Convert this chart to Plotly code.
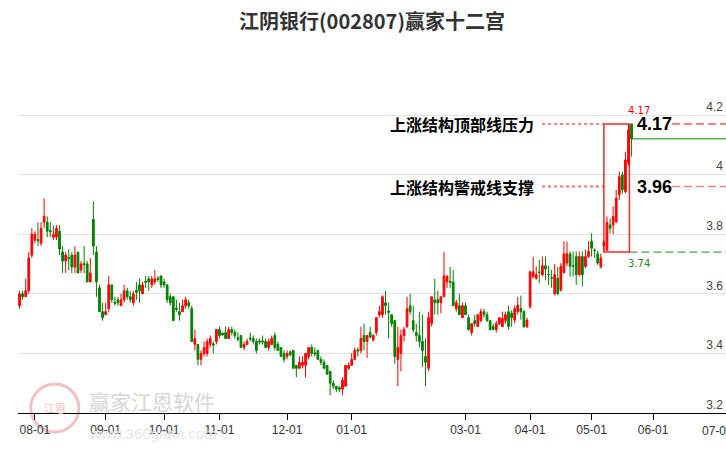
import plotly.graph_objects as go

# ---------------- data ----------------
# trading-day index (0 = first trading day of August)
first_day = -5
open_ = [3.56, 3.60, 3.59, 3.61, 3.73, 3.78, 3.782, 3.77, 3.84, 3.84, 3.812, 3.79, 3.79, 3.81, 3.74, 3.71,
         3.722, 3.73, 3.69, 3.74, 3.68, 3.702, 3.70, 3.64, 3.85, 3.74, 3.62, 3.54, 3.53, 3.55, 3.63, 3.572,
         3.58, 3.56, 3.58, 3.61, 3.59, 3.57, 3.612, 3.63, 3.60, 3.642, 3.65, 3.63, 3.64, 3.652, 3.66, 3.64,
         3.63, 3.59, 3.59, 3.552, 3.54,
         3.54, 3.56, 3.57, 3.55, 3.43, 3.43, 3.38, 3.40, 3.40, 3.43, 3.432, 3.44, 3.48, 3.468, 3.47, 3.45,
         3.48, 3.47, 3.452, 3.46, 3.42, 3.43, 3.452, 3.45, 3.44, 3.442, 3.442, 3.44, 3.42, 3.43, 3.46, 3.43,
         3.42, 3.40, 3.39, 3.405, 3.41, 3.36, 3.35, 3.36, 3.36, 3.39, 3.42, 3.402, 3.41, 3.38, 3.37, 3.36,
         3.34, 3.30, 3.29, 3.285,
         3.28, 3.29, 3.35, 3.36, 3.38, 3.412, 3.41, 3.46, 3.44, 3.47, 3.445, 3.47, 3.53, 3.53, 3.57, 3.542,
         3.53, 3.51, 3.38, 3.40, 3.46, 3.49, 3.56, 3.51, 3.47, 3.46, 3.44, 3.39, 3.35, 3.50, 3.58, 3.58,
         3.57, 3.59, 3.64, 3.642, 3.64, 3.55, 3.56, 3.52, 3.56, 3.52, 3.47, 3.51, 3.49, 3.51, 3.54, 3.53,
         3.51, 3.49, 3.48, 3.50,
         3.49, 3.51, 3.54, 3.535, 3.512, 3.54, 3.551, 3.54, 3.49,
         3.557, 3.657, 3.652, 3.673, 3.664, 3.694, 3.665, 3.654, 3.60, 3.652, 3.613, 3.671, 3.703, 3.734,
         3.694, 3.725, 3.664, 3.725, 3.692, 3.725, 3.776, 3.746, 3.734, 3.69, 3.761, 3.747, 3.831, 3.831,
         3.842, 3.932, 3.999, 3.943, 4.04, 4.17]
high = [3.61, 3.61, 3.65, 3.74, 3.82, 3.81, 3.84, 3.84, 3.92, 3.86, 3.84, 3.83, 3.83, 3.83, 3.76, 3.74,
        3.75, 3.74, 3.76, 3.74, 3.71, 3.76, 3.71, 3.72, 3.91, 3.76, 3.63, 3.57, 3.57, 3.66, 3.63, 3.59,
        3.59, 3.60, 3.63, 3.62, 3.61, 3.61, 3.64, 3.65, 3.64, 3.66, 3.66, 3.66, 3.68, 3.66, 3.66, 3.65,
        3.63, 3.60, 3.59, 3.58, 3.57,
        3.58, 3.59, 3.58, 3.56, 3.48, 3.43, 3.41, 3.44, 3.45, 3.46, 3.44, 3.48, 3.49, 3.47, 3.49, 3.49,
        3.49, 3.48, 3.47, 3.46, 3.44, 3.45, 3.47, 3.46, 3.45, 3.45, 3.46, 3.45, 3.45, 3.46, 3.47, 3.44,
        3.42, 3.41, 3.41, 3.41, 3.41, 3.36, 3.39, 3.39, 3.40, 3.42, 3.43, 3.42, 3.41, 3.39, 3.38, 3.36,
        3.34, 3.31, 3.29, 3.29,
        3.32, 3.36, 3.37, 3.40, 3.42, 3.42, 3.49, 3.50, 3.46, 3.49, 3.465, 3.52, 3.56, 3.595, 3.61, 3.57,
        3.53, 3.51, 3.49, 3.48, 3.49, 3.59, 3.60, 3.56, 3.50, 3.54, 3.53, 3.45, 3.54, 3.59, 3.65, 3.61,
        3.59, 3.74, 3.66, 3.69, 3.68, 3.58, 3.60, 3.57, 3.57, 3.53, 3.50, 3.53, 3.53, 3.55, 3.55, 3.54,
        3.51, 3.50, 3.51, 3.52,
        3.54, 3.54, 3.56, 3.545, 3.56, 3.59, 3.594, 3.545, 3.52,
        3.676, 3.724, 3.692, 3.714, 3.725, 3.725, 3.694, 3.68, 3.70, 3.69, 3.703, 3.776, 3.776, 3.742,
        3.742, 3.742, 3.742, 3.742, 3.748, 3.776, 3.803, 3.753, 3.744, 3.735, 3.78, 3.859, 3.853, 3.893,
        3.949, 4.01, 4.01, 4.077, 4.17, 4.17]
low = [3.55, 3.58, 3.59, 3.60, 3.72, 3.77, 3.76, 3.76, 3.82, 3.79, 3.79, 3.78, 3.78, 3.73, 3.67, 3.67,
       3.68, 3.67, 3.67, 3.67, 3.67, 3.67, 3.64, 3.64, 3.73, 3.59, 3.54, 3.51, 3.53, 3.54, 3.57, 3.56,
       3.56, 3.56, 3.57, 3.58, 3.57, 3.56, 3.58, 3.57, 3.60, 3.62, 3.61, 3.62, 3.63, 3.64, 3.62, 3.62,
       3.57, 3.56, 3.51, 3.54, 3.51,
       3.54, 3.55, 3.55, 3.44, 3.41, 3.36, 3.36, 3.39, 3.39, 3.42, 3.40, 3.43, 3.45, 3.46, 3.45, 3.45,
       3.46, 3.45, 3.44, 3.42, 3.41, 3.43, 3.44, 3.43, 3.40, 3.43, 3.43, 3.42, 3.41, 3.43, 3.41, 3.41,
       3.39, 3.37, 3.38, 3.39, 3.35, 3.32, 3.35, 3.35, 3.32, 3.38, 3.39, 3.39, 3.38, 3.36, 3.35, 3.33,
       3.26, 3.28, 3.27, 3.27,
       3.26, 3.29, 3.345, 3.36, 3.38, 3.39, 3.40, 3.41, 3.385, 3.45, 3.44, 3.46, 3.52, 3.52, 3.53, 3.45,
       3.49, 3.365, 3.29, 3.34, 3.44, 3.485, 3.53, 3.47, 3.44, 3.42, 3.355, 3.29, 3.34, 3.49, 3.53, 3.53,
       3.535, 3.59, 3.62, 3.62, 3.56, 3.54, 3.53, 3.52, 3.53, 3.477, 3.46, 3.49, 3.49, 3.505, 3.52, 3.505,
       3.477, 3.477, 3.47, 3.495,
       3.49, 3.50, 3.48, 3.49, 3.50, 3.53, 3.513, 3.485, 3.485,
       3.55, 3.651, 3.647, 3.636, 3.658, 3.647, 3.63, 3.62, 3.595, 3.597, 3.607, 3.669, 3.692, 3.658,
       3.658, 3.63, 3.658, 3.625, 3.686, 3.72, 3.725, 3.72, 3.697, 3.685, 3.742, 3.742, 3.803, 3.80,
       3.837, 3.915, 3.937, 3.937, 4.03, 4.06]
close = [3.60, 3.59, 3.61, 3.72, 3.80, 3.80, 3.778, 3.82, 3.86, 3.81, 3.808, 3.80, 3.82, 3.75, 3.71, 3.73,
         3.718, 3.69, 3.73, 3.67, 3.70, 3.698, 3.64, 3.67, 3.76, 3.64, 3.54, 3.52, 3.54, 3.63, 3.58, 3.568,
         3.57, 3.58, 3.61, 3.59, 3.58, 3.60, 3.605, 3.61, 3.63, 3.638, 3.64, 3.65, 3.65, 3.648, 3.63, 3.63,
         3.58, 3.57, 3.51, 3.548, 3.53,
         3.56, 3.58, 3.56, 3.44, 3.45, 3.38, 3.40, 3.42, 3.44, 3.45, 3.428, 3.48, 3.46, 3.462, 3.45, 3.48,
         3.47, 3.46, 3.448, 3.42, 3.43, 3.44, 3.448, 3.44, 3.41, 3.438, 3.438, 3.42, 3.44, 3.45, 3.42, 3.41,
         3.39, 3.38, 3.40, 3.395, 3.35, 3.35, 3.37, 3.37, 3.40, 3.42, 3.40, 3.398, 3.38, 3.37, 3.35, 3.33,
         3.30, 3.29, 3.28, 3.28,
         3.31, 3.36, 3.36, 3.38, 3.41, 3.408, 3.45, 3.44, 3.46, 3.455, 3.46, 3.52, 3.54, 3.59, 3.56, 3.538,
         3.50, 3.39, 3.42, 3.46, 3.48, 3.55, 3.54, 3.48, 3.46, 3.44, 3.41, 3.37, 3.52, 3.59, 3.57, 3.57,
         3.59, 3.66, 3.66, 3.638, 3.56, 3.57, 3.53, 3.56, 3.53, 3.48, 3.50, 3.50, 3.53, 3.54, 3.53, 3.51,
         3.48, 3.48, 3.50, 3.52,
         3.517, 3.53, 3.49, 3.52, 3.55, 3.562, 3.54, 3.49, 3.512,
         3.674, 3.674, 3.664, 3.672, 3.694, 3.683, 3.664, 3.652, 3.664, 3.60, 3.692, 3.734, 3.734, 3.692,
         3.693, 3.664, 3.725, 3.664, 3.725, 3.742, 3.753, 3.745, 3.703, 3.72, 3.773, 3.839, 3.82, 3.859,
         3.921, 3.993, 3.949, 4.049, 4.15, 4.12]
days = list(range(first_day, first_day + len(close)))

tick_days = [0, 23, 42, 60, 82, 103, 140, 161, 181, 201, 222]
tick_labels = ["08-01", "09-01", "10-01", "11-01", "12-01", "01-01",
               "03-01", "04-01", "05-01", "06-01", "07-01"]
y_ticks = [3.2, 3.4, 3.6, 3.8, 4.0, 4.2]
y_tick_labels = ["3.2", "3.4", "3.6", "3.8", "4", "4.2"]

title = "江阴银行(002807)赢家十二宫"
top_label = "上涨结构顶部线压力"
warn_label = "上涨结构警戒线支撑"
top_value = 4.17
warn_value = 3.96
base_value = 3.74
box_start_day = 185
box_end_day = 193.3

# ---------------- figure ----------------
X_MIN, X_MAX = -5.5, 224.7
Y_MIN, Y_MAX = 3.2, 4.3846

fig = go.Figure()
fig.add_trace(go.Candlestick(
    x=days, open=open_, high=high, low=low, close=close,
    increasing=dict(line=dict(color="#ff0000", width=1), fillcolor="#ff0000"),
    decreasing=dict(line=dict(color="#008000", width=1), fillcolor="#008000"),
    whiskerwidth=0, showlegend=False, hoverinfo="skip",
))

shapes = []
red = "#ff0000"
pink = "#ff7070"
green = "#0a8a0a"
# dotted leader lines from labels to box
shapes.append(dict(type="line", xref="x", yref="y", x0=164.9, x1=box_start_day,
                   y0=top_value, y1=top_value, line=dict(color=red, width=1, dash="dot")))
shapes.append(dict(type="line", xref="x", yref="y", x0=164.9, x1=box_start_day,
                   y0=warn_value, y1=warn_value, line=dict(color=pink, width=2, dash="dot")))
# box
shapes.append(dict(type="rect", xref="x", yref="y", x0=box_start_day, x1=box_end_day,
                   y0=base_value, y1=top_value, line=dict(color="rgba(255,0,0,0.85)", width=1.5)))
# dashed lines to the right
shapes.append(dict(type="line", xref="x", yref="y", x0=207.1, x1=X_MAX,
                   y0=top_value, y1=top_value, line=dict(color=red, width=1, dash="8px,4px")))
shapes.append(dict(type="line", xref="x", yref="y", x0=207.1, x1=X_MAX,
                   y0=warn_value, y1=warn_value, line=dict(color="#ff8080", width=1.5, dash="8px,4px")))
shapes.append(dict(type="line", xref="x", yref="y", x0=box_end_day, x1=X_MAX,
                   y0=base_value, y1=base_value, line=dict(color="#1a8a1a", width=1, dash="8px,4px")))
# last price line
shapes.append(dict(type="line", xref="x", yref="y", x0=days[-1], x1=X_MAX,
                   y0=close[-1], y1=close[-1], line=dict(color=green, width=1)))
# watermark logo circle
shapes.append(dict(type="circle", xref="paper", yref="paper", x0=0.018, x1=0.086,
                   y0=-0.054, y1=0.082, line=dict(color="#f2c2c2", width=3), layer="below"))

annotations = [
    dict(text=top_label, x=163, y=top_value, xref="x", yref="y", xanchor="right", yanchor="middle",
         showarrow=False, font=dict(family="Noto Sans CJK SC", size=16, color="#000000", weight="bold")),
    dict(text=warn_label, x=163, y=warn_value, xref="x", yref="y", xanchor="right", yanchor="middle",
         showarrow=False, font=dict(family="Noto Sans CJK SC", size=16, color="#000000", weight="bold")),
    dict(text=f"{top_value:.2f}", x=195, y=top_value, xref="x", yref="y", xanchor="left", yanchor="middle",
         showarrow=False, font=dict(family="Liberation Sans", size=18, color="#000000", weight="bold")),
    dict(text=f"{warn_value:.2f}", x=195, y=warn_value, xref="x", yref="y", xanchor="left", yanchor="middle",
         showarrow=False, font=dict(family="Liberation Sans", size=18, color="#000000", weight="bold")),
    dict(text=f"{top_value:.2f}", x=196.5, y=top_value, xref="x", yref="y", xanchor="center", yanchor="bottom",
         yshift=6, showarrow=False, font=dict(family="DejaVu Sans", size=10, color="#ff0000")),
    dict(text=f"{base_value:.2f}", x=196.5, y=base_value, xref="x", yref="y", xanchor="center", yanchor="top",
         yshift=-4, showarrow=False, font=dict(family="DejaVu Sans", size=10, color="#1a8a1a")),
    # last month label (Plotly hides the edge tick label next to inside y labels)
    dict(text=tick_labels[-1], x=tick_days[-1], y=0, xref="x", yref="paper", xanchor="center", yanchor="top",
         yshift=-9, showarrow=False, font=dict(family="Liberation Sans", size=12, color="#333333")),
    # watermark
    dict(text="赢家江恩软件", x=0.189, y=0.034, xref="paper", yref="paper", xanchor="center", yanchor="middle",
         showarrow=False, font=dict(family="Noto Sans CJK SC", size=21, color="#d6d6d6")),
    dict(text="www.360gann.com", x=0.19, y=-0.058, xref="paper", yref="paper", xanchor="center",
         yanchor="middle", showarrow=False, font=dict(family="Liberation Sans", size=15, color="#e6e6e6")),
    dict(text="江恩", x=0.052, y=0.014, xref="paper", yref="paper", xanchor="center", yanchor="middle",
         showarrow=False, font=dict(family="Noto Sans CJK SC", size=11, color="#f0c0c0")),
]

fig.update_layout(
    width=744, height=450,
    margin=dict(l=18, r=18, t=60, b=37),
    paper_bgcolor="white", plot_bgcolor="white",
    boxgap=0.2,
    title=dict(text=title, x=0.5, xref="paper", y=0.951, yanchor="middle", xanchor="center",
               font=dict(family="Noto Sans CJK SC", size=20, color="#333333", weight="bold")),
    shapes=shapes, annotations=annotations,
    showlegend=False,
    xaxis=dict(range=[X_MIN, X_MAX], rangeslider=dict(visible=False), showgrid=False, zeroline=False,
               showline=True, linecolor="#000000", linewidth=1, ticks="outside", ticklen=6,
               tickcolor="#000000", tickmode="array", tickvals=tick_days, ticktext=tick_labels,
               ticklabeloverflow="allow", automargin=False,
               tickfont=dict(family="Liberation Sans", size=12, color="#333333")),
    yaxis=dict(range=[Y_MIN, Y_MAX], side="right", showgrid=True, gridcolor="#e2e2e2", gridwidth=1,
               zeroline=False, showline=False, ticks="", tickvals=y_ticks, ticktext=y_tick_labels,
               ticklabelposition="inside top", automargin=False,
               tickfont=dict(family="Liberation Sans", size=12, color="#444444")),
)

fig.write_html("out.html", config={"displayModeBar": False},
               post_script="document.body.style.margin='0';document.body.style.overflow='hidden';")
